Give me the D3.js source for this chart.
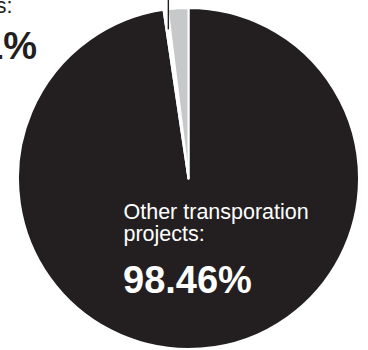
<!DOCTYPE html>
<html>
<head>
<meta charset="utf-8">
<script src="https://cdn.jsdelivr.net/npm/d3@7/dist/d3.min.js"></script>
<style>
body { margin: 0; background: #fff; }
svg { display: block; }
text { font-family: "Liberation Sans", Arial, Helvetica, sans-serif; }
</style>
</head>
<body>
<svg id="pie" width="368" height="350"></svg>
<script>

// slices, clockwise from 12 o'clock (sizes as drawn in the picture)
var categories = ["Other transporation projects", "Small projects", "Bike and pedestrian projects"];
var values = [98.46, 0.41, 1.95];
var colors = ["#231f20", "#ffffff", "#c6c8ca"];

// labels
var bigLabelLines = ["Other transporation", "projects:"];
var bigLabelValue = "98.46%";
var smallLabelLines = ["Small", "projects:"];
var smallLabelValue = "0.41%";

var width = 368,
height = 350,
cx = 188.5,
cy = 178.5,
radius = 170.5;

var svg = d3.select("#pie");

var g = svg.append("g")
.attr("transform", "translate(" + cx + "," + cy + ")");

var pie = d3.pie()
.sort(null)
.value(function(d) { return d; });

var arc = d3.arc()
.innerRadius(0)
.outerRadius(radius);

var arcs = pie(values);

g.selectAll("path")
.data(arcs)
.enter().append("path")
.attr("d", arc)
.attr("fill", function(d, i) { return colors[i]; })
.attr("stroke", "#fff")
.attr("stroke-width", 2)
.attr("stroke-linejoin", "round");

// leader line for the thin slice, going up off the top
var small = arcs[1];
var mid = (small.startAngle + small.endAngle) / 2;
var lx = cx + (radius - 20) * Math.sin(mid);
var ly = cy - (radius - 20) * Math.cos(mid);

svg.append("line")
.attr("x1", lx)
.attr("x2", lx)
.attr("y1", ly)
.attr("y2", -5)
.attr("stroke", "#231f20")
.attr("stroke-width", 1.4);

// big slice label
var big = svg.append("g").attr("fill", "#fff");
big.selectAll(".line")
.data(bigLabelLines)
.enter().append("text")
.attr("class", "line")
.attr("x", 123.5)
.attr("y", function(d, i) { return 218.5 + i * 22; })
.attr("font-size", "21.5px")
.text(function(d) { return d; });

big.append("text")
.attr("x", 123)
.attr("y", 293)
.attr("font-size", "38px")
.attr("font-weight", "bold")
.text(bigLabelValue);

// small slice label, mostly outside the frame
var sm = svg.append("g").attr("fill", "#231f20").attr("text-anchor", "end");
sm.selectAll(".line")
.data(smallLabelLines)
.enter().append("text")
.attr("class", "line")
.attr("x", 12.5)
.attr("y", function(d, i) { return -9.5 + i * 22; })
.attr("font-size", "21.5px")
.text(function(d) { return d; });

sm.append("text")
.attr("x", 37)
.attr("y", 59)
.attr("font-size", "38px")
.attr("font-weight", "bold")
.text(smallLabelValue);

</script>
</body>
</html>
